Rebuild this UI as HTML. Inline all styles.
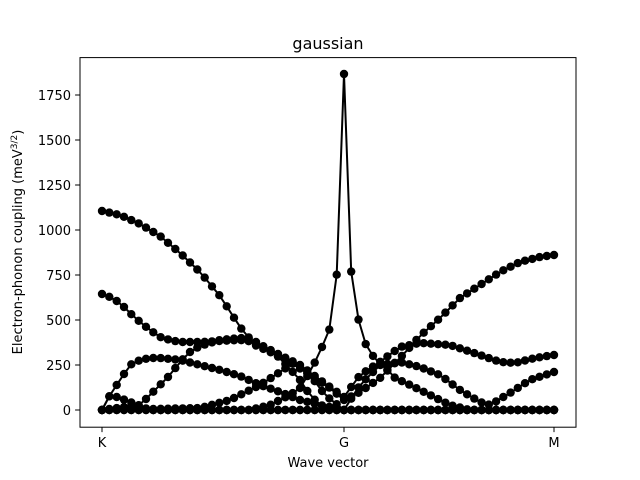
<!DOCTYPE html>
<html><head><meta charset="utf-8"><style>
body{margin:0;background:#fff;}
svg{display:block;font-family:"DejaVu Sans","Liberation Sans",sans-serif;}
</style></head><body>
<svg id="s" width="640" height="480" viewBox="0 0 640 480" xmlns="http://www.w3.org/2000/svg">
<rect width="640" height="480" fill="#fff"/>
<g id="data"></g>
<rect x="80" y="57.6" width="496" height="369.6" fill="none" stroke="#000" stroke-width="1"/>
<g stroke="#000" stroke-width="1">
<line x1="80" x2="75.1" y1="410" y2="410"/><line x1="80" x2="75.1" y1="365" y2="365"/><line x1="80" x2="75.1" y1="320" y2="320"/><line x1="80" x2="75.1" y1="275" y2="275"/><line x1="80" x2="75.1" y1="230" y2="230"/><line x1="80" x2="75.1" y1="185" y2="185"/><line x1="80" x2="75.1" y1="140" y2="140"/><line x1="80" x2="75.1" y1="95" y2="95"/>
<line x1="102" x2="102" y1="427.2" y2="432.1"/><line x1="344" x2="344" y1="427.2" y2="432.1"/><line x1="554" x2="554" y1="427.2" y2="432.1"/>
</g>
<g font-size="13" text-anchor="end" fill="#000">
<text x="71" y="415">0</text><text x="71" y="370">250</text><text x="71" y="325">500</text><text x="71" y="280">750</text><text x="71" y="235">1000</text><text x="71" y="190">1250</text><text x="71" y="145">1500</text><text x="71" y="100">1750</text>
</g>
<g font-size="13" text-anchor="middle" fill="#000">
<text x="102" y="447">K</text><text x="344" y="447">G</text><text x="554" y="447">M</text>
<text x="328" y="467">Wave vector</text>
<text x="328" y="49" font-size="16">gaussian</text>
<text transform="translate(22,242) rotate(-90)">Electron-phonon coupling (meV<tspan font-size="9" dy="-5">3/2</tspan><tspan dy="5">)</tspan></text>
</g>
</svg>
<script>
var xs=[];for(var i=0;i<34;i++)xs.push(102+i*242/33);for(var i=1;i<30;i++)xs.push(344+i*210/29);
function interp(k,x){if(x<=k[0][0])return k[0][1];for(var i=1;i<k.length;i++){if(x<=k[i][0]){var a=k[i-1],b=k[i];return a[1]+(b[1]-a[1])*(x-a[0])/(b[0]-a[0]);}}return k[k.length-1][1];}
var bands=[
[[102,211],[120,215],[140,224],[160,236],[180,253],[200,272],[220,296],[240,327],[255,345],[270,352],[290,362],[310,375],[330,388],[344,400],[360,392],[380,378],[400,358],[420,336],[440,318],[460,298],[480,285],[500,272],[520,262],[540,257],[554,255]],
[[102,294],[110,297],[120,303],[130,313],[140,322],[150,330],[160,337],[170,340],[180,342],[200,342],[220,341],[240,340],[255,342],[280,355],[300,365],[320,380],[344,397],[360,375],[380,362],[400,347],[420,343],[450,345],[480,355],[500,362],[515,363],[535,358],[554,355]],
[[102,410],[110,395],[120,380],[130,365],[140,360],[150,358],[160,358],[180,360],[200,365],[220,370],[240,376],[260,385],[280,392],[300,400],[320,405],[344,410],[360,385],[380,365],[400,362],[420,367],[440,375],[460,390],[480,402],[490,405],[510,393],[530,380],[554,372]],
[[102,410],[140,405],[150,395],[160,385],[170,375],[180,362],[190,352],[200,346],[220,340],[240,338],[250,339],[260,344],[280,358],[300,380],[310,395],[320,405],[330,410],[554,410]],
[[102,410],[200,408],[230,400],[260,385],[280,372],[295,362],[310,375],[325,395],[344,410],[554,410]],
[[102,410],[110,395],[120,398],[130,402],[140,406],[150,410],[554,410]],
[[102,410],[554,410]],
[[102,410],[250,410],[270,405],[280,400],[290,395],[300,388],[308,375],[315,362],[322,347],[330,328],[337,272],[344,74],[351,270],[359,323],[366,345],[373,356],[380,364],[388,370],[395,378],[410,385],[430,395],[450,405],[470,410],[554,410]]
];
var out='';
bands.forEach(function(k){var pts=xs.map(function(x){return [x,interp(k,x)];});
out+='<polyline fill="none" stroke="#000" stroke-width="2" points="'+pts.map(function(p){return p[0].toFixed(1)+','+p[1].toFixed(1);}).join(' ')+'"/>';
pts.forEach(function(p){out+='<circle cx="'+p[0].toFixed(1)+'" cy="'+p[1].toFixed(1)+'" r="4.2" fill="#000"/>';});});
document.getElementById('data').innerHTML=out;
</script>
</body></html>
